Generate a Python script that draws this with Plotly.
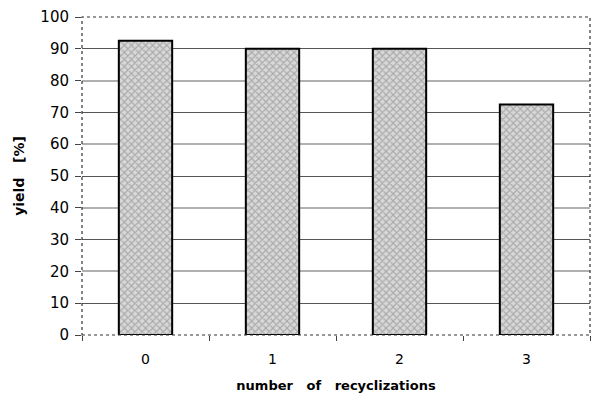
import plotly.graph_objects as go

categories = ["0", "1", "2", "3"]
yields = [92.5, 90.0, 90.0, 72.5]
y_ticks = list(range(0, 101, 10))
dark_grid = [10, 30, 50, 70, 90]
light_grid = [20, 40, 60, 80]

fig = go.Figure()
fig.add_trace(go.Bar(
    x=categories, y=yields, yaxis="y",
    marker=dict(
        color="#c4c4c4",
        line=dict(color="black", width=2),
        pattern=dict(shape="x", fgcolor="#7a7a7a", bgcolor="#d8d8d8", size=5, solidity=0.4),
    ),
    width=0.42,
))
# invisible helper trace to show the labelled left axis
fig.add_trace(go.Scatter(x=categories, y=yields, yaxis="y2", mode="none",
                         hoverinfo="skip", showlegend=False))

fig.update_layout(
    width=592, height=403,
    margin=dict(l=82, r=2, t=17, b=68),
    paper_bgcolor="white", plot_bgcolor="white",
    font=dict(family="DejaVu Sans", size=14, color="black"),
    showlegend=False,
    xaxis=dict(
        type="category", showgrid=False, showline=False,
        ticks="outside", tickson="boundaries", ticklen=5, tickcolor="#444",
        tickfont=dict(size=14), ticklabelstandoff=14,
        title=dict(text="number&nbsp;&nbsp;&nbsp;of&nbsp;&nbsp;&nbsp;recyclizations",
                   font=dict(size=13, weight="bold"), standoff=14),
    ),
    yaxis=dict(
        range=[0, 100], tickvals=dark_grid, showticklabels=False, ticks="",
        showgrid=True, gridcolor="#555", gridwidth=1, showline=False, zeroline=False,
        minor=dict(tickvals=light_grid, showgrid=True, gridcolor="#b0b0b0", gridwidth=1.5, ticks=""),
    ),
    yaxis2=dict(
        range=[0, 100], overlaying="y", side="left", tickvals=y_ticks,
        showgrid=False, showline=False, zeroline=False,
        ticks="outside", ticklen=6, tickcolor="#444", tickfont=dict(size=15),
        ticklabelstandoff=3,
        title=dict(text="yield&nbsp;&nbsp;&nbsp;[%]", font=dict(size=14, weight="bold"), standoff=12),
    ),
    shapes=[dict(type="rect", xref="paper", yref="paper", x0=0, x1=1, y0=0, y1=1,
                 line=dict(color="#333", width=1.2, dash="dot"), layer="above")],
)
fig.write_html("out.html", config={"displayModeBar": False},
               post_script="document.body.style.margin='0px';")
